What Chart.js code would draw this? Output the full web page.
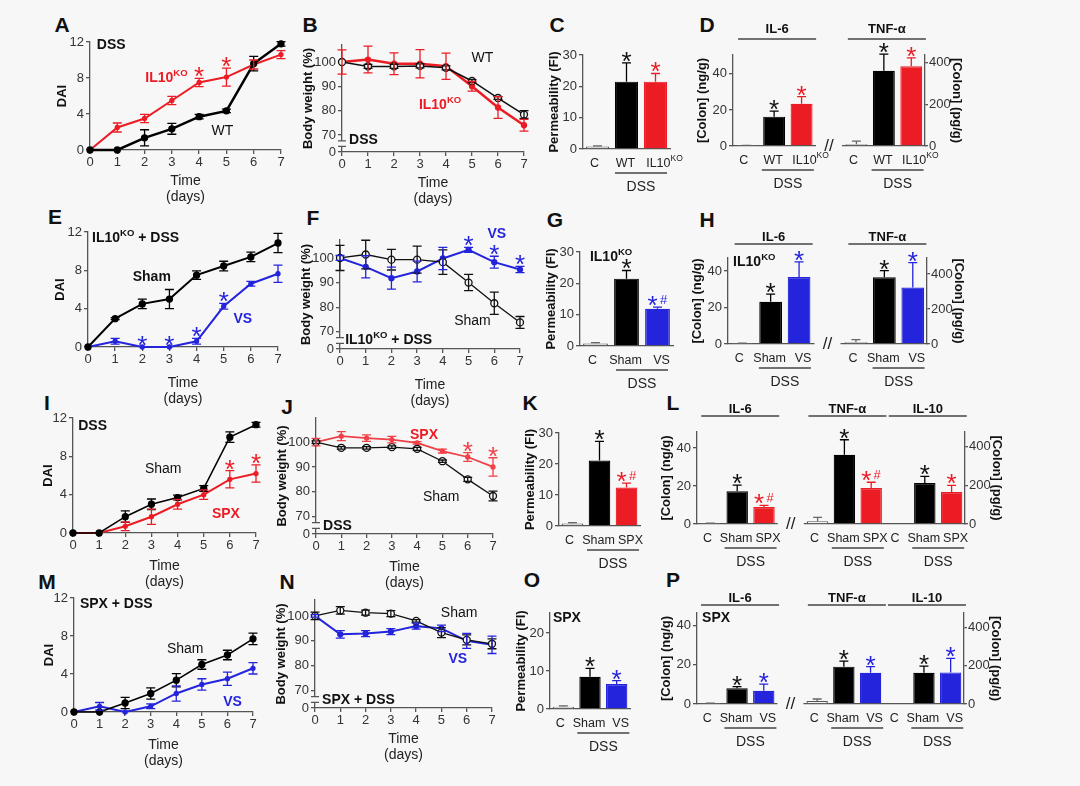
<!DOCTYPE html>
<html>
<head>
<meta charset="utf-8">
<script src="https://cdn.jsdelivr.net/npm/chart.js@4.4.1/dist/chart.umd.min.js"></script>
<style>
  body { margin: 0; background: #f7f7f7; width: 1080px; height: 786px; position: relative; overflow: hidden; }
  canvas { position: absolute; }
  .tag { position: absolute; font: bold 21px "Liberation Sans", Arial, sans-serif; color: #111; transform: translate(-50%, -50%); }
</style>
</head>
<body>
<div class="tag" style="left:62px;top:25px">A</div>
<div class="tag" style="left:310px;top:25px">B</div>
<div class="tag" style="left:557px;top:25px">C</div>
<div class="tag" style="left:707px;top:25px">D</div>
<div class="tag" style="left:55px;top:217px">E</div>
<div class="tag" style="left:313px;top:218px">F</div>
<div class="tag" style="left:555px;top:220px">G</div>
<div class="tag" style="left:707px;top:220px">H</div>
<div class="tag" style="left:47px;top:403px">I</div>
<div class="tag" style="left:287px;top:407px">J</div>
<div class="tag" style="left:530px;top:403px">K</div>
<div class="tag" style="left:673px;top:403px">L</div>
<div class="tag" style="left:47px;top:582px">M</div>
<div class="tag" style="left:287px;top:582px">N</div>
<div class="tag" style="left:532px;top:580px">O</div>
<div class="tag" style="left:673px;top:580px">P</div>
<script>
// ---- data ----
const days = ['0', '1', '2', '3', '4', '5', '6', '7'];
const daiTicks = [0, 4, 8, 12];
const bwTicks = [63, 70, 80, 90, 100];
const bwTickLabels = ['0', '70', '80', '90', '100'];
const permTicks = [0, 10, 20, 30];
const permTicksO = [0, 10, 20];
const ngTicks = [0, 20, 40];
const pgTicks = [0, 200, 400];

const catsWT = ['C', 'WT', 'IL10^{KO}'];
const catsVS = ['C', 'Sham', 'VS'];
const catsSPX = ['C', 'Sham', 'SPX'];

// A  DAI (DSS)
const aWT = [0, 0, 1.35, 2.35, 3.7, 4.35, 9.6, 11.8];
const aWTErr = [0, 0, 0.9, 0.6, 0.25, 0.2, 0.8, 0.25];
const aKO = [0, 2.5, 3.5, 5.5, 7.5, 8.1, 9.5, 10.6];
const aKOErr = [0, 0.5, 0.45, 0.45, 0.45, 1.0, 0.5, 0.45];
const aKOStars = ['', '', '', '', '*', '*', '', ''];
// B  body weight (DSS)
const bWT = [100, 98.2, 98.2, 98.4, 97.6, 92.2, 85.2, 78.4];
const bWTErr = [0, 0.8, 0.8, 0.8, 0.8, 0.6, 0.6, 1.6];
const bKO = [100, 101, 99.3, 99.3, 98.3, 90, 81.3, 74];
const bKOErr = [5, 5.5, 4.5, 5.8, 5.4, 2, 4.5, 2.4];
// C  permeability
const permC = [0.8, 21.5, 21.5];
const permCErr = [0.2, 6, 2.6];
const permCStars = ['', '*', '*'];
// D  cytokines
const dIL6 = [0.3, 16.3, 23.4];
const dIL6Err = [0.1, 3, 4];
const dIL6Stars = ['', '*', '*'];
const dTNF = [8, 362, 384];
const dTNFErr = [15, 80, 40];
const dTNFStars = ['', '*', '*'];
// E  DAI (IL10KO + DSS)
const eSham = [0, 2.96, 4.5, 5.0, 7.5, 8.45, 9.4, 10.85];
const eShamErr = [0, 0.1, 0.5, 1.0, 0.45, 0.5, 0.5, 1.0];
const eVS = [0, 0.6, 0, 0, 0.6, 4.25, 6.6, 7.65];
const eVSErr = [0, 0.3, 0, 0, 0.3, 0.3, 0.25, 0.9];
const eVSStars = ['', '', '*', '*', '*', '*', '', ''];
// F  body weight (IL10KO + DSS)
const fSham = [100, 101.4, 99.3, 99.3, 98.3, 90, 81.6, 73.8];
const fShamErr = [5.1, 5.8, 4.2, 5.5, 5, 3.3, 4.5, 2.4];
const fVS = [100, 96.4, 91.8, 94.5, 99.8, 103.3, 98.3, 95.3];
const fVSErr = [1, 4.5, 4.5, 4.2, 4.5, 1, 2.4, 1.3];
const fVSStars = ['', '', '', '', '', '*', '*', '*'];
// G  permeability IL10KO
const permG = [0.8, 21.5, 11.9];
const permGErr = [0.3, 2.6, 0.5];
const permGStars = ['', '*', '*#'];
// H  cytokines IL10KO
const hIL6 = [0.3, 23.1, 36.7];
const hIL6Err = [0.1, 4.2, 8.3];
const hIL6Stars = ['', '*', '*'];
const hTNF = [10, 381, 322];
const hTNFErr = [15, 38, 143];
const hTNFStars = ['', '*', '*'];
// I  DAI (DSS, SPX)
const iSham = [0, 0, 1.7, 3.0, 3.7, 4.65, 10, 11.3];
const iShamErr = [0, 0, 0.6, 0.55, 0.25, 0.3, 0.55, 0.25];
const iSPX = [0, 0, 0.7, 1.7, 3.0, 4.0, 5.6, 6.2];
const iSPXErr = [0, 0, 0.45, 0.8, 0.5, 0.5, 0.9, 0.9];
const iSPXStars = ['', '', '', '', '', '', '*', '*'];
// J  body weight (DSS, SPX)
const jSham = [100, 97.7, 97.7, 98, 97.3, 92.3, 85, 78.3];
const jShamErr = [0.5, 0.5, 0.5, 0.5, 0.6, 0.5, 0.8, 2];
const jSPX = [100, 102.4, 101.6, 101, 99.7, 96.4, 94, 90];
const jSPXErr = [1.5, 1.8, 1.3, 1.3, 0.5, 0.8, 1.8, 3.7];
const jSPXStars = ['', '', '', '', '', '', '*', '*'];
// K  permeability SPX
const permK = [0.8, 21.1, 12.4];
const permKErr = [0.3, 6.2, 1.4];
const permKStars = ['', '*', '*#'];
// L  cytokines SPX
const lIL6 = [0.3, 17.2, 8.9];
const lIL6Err = [0.1, 3.2, 0.9];
const lIL6Stars = ['', '*', '*#'];
const lTNF = [14, 357, 185];
const lTNFErr = [20, 77, 30];
const lTNFStars = ['', '*', '*#'];
const lIL10 = [5, 211, 165];
const lIL10Err = [0, 34, 34];
const lIL10Stars = ['', '*', '*'];
// M  DAI (SPX + DSS)
const mSham = [0, 0, 0.95, 1.95, 3.35, 5.0, 6.0, 7.7];
const mShamErr = [0, 0, 0.6, 0.6, 0.7, 0.5, 0.5, 0.6];
const mVS = [0, 0.6, 0, 0.6, 1.95, 2.9, 3.5, 4.6];
const mVSErr = [0, 0.4, 0, 0.25, 0.8, 0.6, 0.7, 0.6];
// N  body weight (SPX + DSS)
const nSham = [100, 102.2, 101.3, 100.9, 98, 93.3, 90.4, 88.8];
const nShamErr = [1.5, 1.5, 1, 1.2, 0.5, 2, 2, 2];
const nVS = [100, 92.6, 92.9, 93.7, 95.9, 95, 90, 88.4];
const nVSErr = [0.5, 1.5, 1.2, 1.2, 1.2, 1.3, 3, 3.5];
// O  permeability SPX + VS
const permO = [0.6, 8.5, 6.6];
const permOErr = [0.2, 2.2, 0.9];
const permOStars = ['', '*', '*'];
// P  cytokines SPX + VS
const pIL6 = [0.3, 8.0, 6.8];
const pIL6Err = [0.1, 0.9, 3.4];
const pIL6Stars = ['', '*', '*'];
const pTNF = [16, 195, 163];
const pTNFErr = [10, 29, 32];
const pTNFStars = ['', '*', '*'];
const pIL10 = [3.5, 163, 165];
const pIL10Err = [0, 35, 73];
const pIL10Stars = ['', '*', '*'];

// ---- drawing ----
const FAM = '"Liberation Sans", Arial, sans-serif';
const BG = '#f7f7f7';
const AX = '#555';
const RED = '#ec1c24';
const BLUE = '#2424dc';
Chart.defaults.font.family = FAM;
Chart.defaults.font.size = 13;
Chart.defaults.color = '#333';

function makeCanvas(area, m) {
  const c = document.createElement('canvas');
  const w = area[2] - area[0] + m.l + m.r, h = area[3] - area[1] + m.t + m.b;
  c.style.left = (area[0] - m.l) + 'px';
  c.style.top = (area[1] - m.t) + 'px';
  c.width = w; c.height = h;
  c.style.width = w + 'px'; c.style.height = h + 'px';
  document.body.appendChild(c);
  return c;
}

function drawRich(ctx, text, x, y, size, bold, color, align) {
  const parts = [];
  text.split(/(\^\{[^}]*\})/).forEach(p => {
    if (!p) return;
    if (p.startsWith('^{')) parts.push({ t: p.slice(2, -1), sup: true });
    else parts.push({ t: p, sup: false });
  });
  const fnt = s => (bold ? 'bold ' : '') + s + 'px ' + FAM;
  let w = 0;
  parts.forEach(p => { ctx.font = fnt(p.sup ? size * 0.68 : size); p.w = ctx.measureText(p.t).width; w += p.w; });
  let cx = align === 'left' ? x : x - w / 2;
  ctx.fillStyle = color; ctx.textBaseline = 'alphabetic'; ctx.textAlign = 'left';
  parts.forEach(p => {
    ctx.font = fnt(p.sup ? size * 0.68 : size);
    ctx.fillText(p.t, cx, y + size * 0.36 - (p.sup ? size * 0.42 : 0));
    cx += p.w;
  });
}

function drawStar(ctx, s, x, top, color) {
  ctx.fillStyle = color; ctx.textAlign = 'center'; ctx.textBaseline = 'alphabetic';
  if (s.includes('#')) {
    ctx.font = '26px ' + FAM; ctx.fillText('*', x - 5, top + 9);
    ctx.font = '13px ' + FAM; ctx.fillText('#', x + 6, top - 1);
  } else {
    ctx.font = '26px ' + FAM; ctx.fillText('*', x, top + 9);
  }
}

function decor(ex) {
  return {
    id: 'decor',
    afterDatasetsDraw(chart) {
      const ctx = chart.ctx;
      const isBar = chart.config.type === 'bar';
      ctx.save();
      chart.data.datasets.forEach((ds, di) => {
        const meta = chart.getDatasetMeta(di);
        const ys = chart.scales[meta.yAxisID];
        meta.data.forEach((el, i) => {
          const v = ds.data[i];
          if (v === null || v === undefined) return;
          const e = ds.err ? (ds.err[i] || 0) : 0;
          const col = Array.isArray(ds.errColor) ? ds.errColor[i] : ds.errColor;
          const x = el.x;
          const up = ys.getPixelForValue(v + e);
          const lo = ys.getPixelForValue(isBar ? v : v - e);
          if (e > 0) {
            ctx.strokeStyle = col; ctx.lineWidth = 1.3;
            ctx.beginPath();
            ctx.moveTo(x, lo); ctx.lineTo(x, up);
            ctx.moveTo(x - 4.5, up); ctx.lineTo(x + 4.5, up);
            if (!isBar) { ctx.moveTo(x - 4.5, lo); ctx.lineTo(x + 4.5, lo); }
            ctx.stroke();
          }
          if (ds.stars && ds.stars[i]) {
            const sc = Array.isArray(ds.starColor) ? ds.starColor[i] : ds.starColor;
            drawStar(ctx, ds.stars[i], x, Math.min(up, el.y) - 2, sc);
          }
        });
      });
      ctx.restore();
    },
    afterDraw(chart) {
      const ctx = chart.ctx;
      const xs = chart.scales.x, ys = chart.scales.y;
      const ca = chart.chartArea;
      ctx.save();
      if (ex.broken) {
        const y1 = ys.getPixelForValue(65.3), y2 = ys.getPixelForValue(67.6);
        ctx.fillStyle = BG;
        ctx.fillRect(ca.left - 2, y2, 4, y1 - y2);
        ctx.strokeStyle = AX; ctx.lineWidth = 1.3;
        ctx.beginPath();
        ctx.moveTo(ca.left - 4, y1); ctx.lineTo(ca.left + 4, y1);
        ctx.moveTo(ca.left - 4, y2); ctx.lineTo(ca.left + 4, y2);
        ctx.stroke();
      }
      if (ex.spacer !== undefined && ex.spacer >= 0) {
        const sx = xs.getPixelForValue(ex.spacer);
        ctx.fillStyle = BG;
        ctx.fillRect(sx - 13, ca.bottom - 2, 26, 4);
        ctx.fillStyle = '#222'; ctx.font = '17px ' + FAM;
        ctx.textAlign = 'center'; ctx.textBaseline = 'alphabetic';
        ctx.fillText('//', sx, ca.bottom + 5);
      }
      // category labels under the bars, pushed apart a little as in the figure
      if (ex.labels) {
        ex.labels.forEach((l, i) => {
          if (!l) return;
          const k = ex.slot[i];
          let shift = k === 0 ? -3 : k === 1 ? -1 : 4;
          if (l.includes('^')) shift += 5;
          drawRich(ctx, l, xs.getPixelForValue(i) + shift, ca.bottom + 13, 12.5, false, '#222', 'center');
        });
      }
      (ex.groups || []).forEach(g => {
        const c0 = xs.getPixelForValue(g.start), c2 = xs.getPixelForValue(g.start + 2);
        const mid = (c0 + c2) / 2 + 3;
        if (g.title) {
          ctx.strokeStyle = '#444'; ctx.lineWidth = 1.3;
          ctx.beginPath(); ctx.moveTo(mid - 39, ca.top + ex.head[0]); ctx.lineTo(mid + 39, ca.top + ex.head[0]); ctx.stroke();
          drawRich(ctx, g.title, mid, ca.top + ex.head[1], 13, true, '#111', 'center');
        }
        const d1 = xs.getPixelForValue(g.start + 1), d2 = xs.getPixelForValue(g.start + 2);
        const dm = (d1 + d2) / 2;
        ctx.strokeStyle = '#444'; ctx.lineWidth = 1.3;
        ctx.beginPath(); ctx.moveTo(dm - 26, ca.bottom + 24); ctx.lineTo(dm + 26, ca.bottom + 24); ctx.stroke();
        drawRich(ctx, 'DSS', dm, ca.bottom + 37, 14, false, '#222', 'center');
      });
      (ex.notes || []).forEach(n => {
        const px = xs.getPixelForValue(n.x), py = ys.getPixelForValue(n.y);
        drawRich(ctx, n.t, px, py, n.s || 14, n.b, n.c || '#111', n.a);
      });
      ctx.restore();
    }
  };
}

function yAxis(opt, width, pos) {
  const right = pos === 'right';
  return {
    position: pos || 'left',
    min: opt.min || 0, max: opt.max,
    border: { display: true, color: AX, width: 1.3 },
    grid: { drawOnChartArea: false, drawTicks: true, tickLength: right ? 3 : 4, color: AX, lineWidth: 1.3 },
    ticks: { padding: right ? 1 : 2, color: '#333', font: { size: 13 }, callback: (v, i) => opt.labels ? opt.labels[i] : v },
    title: { display: true, text: opt.title, font: { size: 13, weight: 'bold', lineHeight: right ? 1 : 1.2 }, color: '#111', padding: 0 },
    afterBuildTicks: s => { s.ticks = opt.ticks.map(v => ({ value: v })); },
    afterFit: s => { s.width = width; s.paddingTop = 0; s.paddingBottom = 0; }
  };
}

function lineChart(o) {
  const c = makeCanvas(o.area, o.m);
  new Chart(c, {
    type: 'line',
    data: {
      labels: days,
      datasets: o.series.map(s => ({
        data: s.data, err: s.err, stars: s.stars,
        errColor: s.color, starColor: s.color,
        borderColor: s.color, borderWidth: s.width,
        pointRadius: s.radius, pointBackgroundColor: s.fill, pointBorderColor: s.color, pointBorderWidth: 1.3,
        tension: 0, clip: false
      }))
    },
    options: {
      responsive: false, animation: false,
      layout: { padding: { top: o.m.t, right: o.m.r, left: 0, bottom: 0 } },
      plugins: { legend: { display: false }, tooltip: { enabled: false } },
      scales: {
        x: {
          type: 'category', offset: false,
          border: { display: true, color: AX, width: 1.3 },
          grid: { drawOnChartArea: false, drawTicks: true, tickLength: 4, color: AX, lineWidth: 1.3 },
          ticks: { padding: 1, maxRotation: 0, autoSkip: false, color: '#333', font: { size: 13 } },
          title: { display: true, text: ['Time', '(days)'], font: { size: 14 }, color: '#222', padding: 0 },
          afterFit: s => { s.height = o.m.b; s.paddingLeft = 0; s.paddingRight = 0; }
        },
        y: yAxis(o.y, o.m.l)
      }
    },
    plugins: [decor({ notes: o.notes, broken: o.broken })]
  });
}

function barPanel(o) {
  const labels = [], starts = [], slot = [];
  let spacer = -1;
  o.groups.forEach((g, gi) => {
    starts.push(labels.length);
    o.cats.forEach((cat, k) => { labels.push(cat); slot.push(k); });
    if (gi === o.spacerAfter) { spacer = labels.length; labels.push(''); slot.push(-1); }
  });
  const datasets = o.groups.map((g, gi) => {
    const data = labels.map(() => null), err = labels.map(() => 0), stars = labels.map(() => '');
    const fill = [], line = [], ecol = [], scol = [];
    labels.forEach((l, i) => {
      const k = i - starts[gi];
      fill.push(k === 0 ? '#ffffff' : k === 1 ? '#000000' : o.col);
      line.push(k === 0 ? '#555' : k === 1 ? '#000000' : o.col);
      ecol.push(k === 0 ? '#666' : k === 1 ? '#000000' : o.col);
      scol.push(k === 1 ? '#111' : o.col);
    });
    g.vals.forEach((v, k) => { data[starts[gi] + k] = v; err[starts[gi] + k] = g.err[k]; stars[starts[gi] + k] = g.stars[k]; });
    return {
      data, err, stars, errColor: ecol, starColor: scol,
      yAxisID: g.axis || 'y', backgroundColor: fill, borderColor: line, borderWidth: 1.2,
      grouped: false, barPercentage: 0.8, categoryPercentage: 1
    };
  });
  const scales = {
    x: {
      type: 'category', offset: true,
      border: { display: true, color: AX, width: 1.3 },
      grid: { display: false },
      ticks: { display: false },
      afterFit: s => { s.height = o.m.b; s.paddingLeft = 0; s.paddingRight = 0; }
    },
    y: yAxis(o.y, o.m.l)
  };
  if (o.y2) scales.y2 = yAxis(o.y2, o.m.r, 'right');
  const c = makeCanvas(o.area, o.m);
  new Chart(c, {
    type: 'bar',
    data: { labels, datasets },
    options: {
      responsive: false, animation: false,
      layout: { padding: { top: o.m.t, right: o.y2 ? 0 : o.m.r, left: 0, bottom: 0 } },
      plugins: { legend: { display: false }, tooltip: { enabled: false } },
      scales
    },
    plugins: [decor({
      notes: o.notes, spacer, labels, slot,
      head: o.head || [-16, -27],
      groups: o.groups.map((g, gi) => ({ start: starts[gi], title: g.title }))
    })]
  });
}

const daiY = { max: 12, ticks: daiTicks, title: 'DAI' };
const bw = (max) => ({ min: 63, max, ticks: bwTicks, labels: bwTickLabels, title: 'Body weight (%)' });
const perm = { max: 30, ticks: permTicks, title: 'Permeability (FI)' };
const mLine = { l: 35, t: 16, r: 12, b: 56 };
const mBw = { l: 41, t: 16, r: 12, b: 56 };
const mPerm = { l: 36, t: 16, r: 30, b: 50 };
const mCyto = { l: 38, t: 40, r: 38, b: 50 };

// Row 1
lineChart({
  area: [90, 42, 281, 150], m: mLine, y: daiY,
  series: [
    { data: aWT, err: aWTErr, color: '#000', width: 2.5, radius: 3, fill: '#000' },
    { data: aKO, err: aKOErr, stars: aKOStars, color: RED, width: 2, radius: 2, fill: RED }
  ],
  notes: [
    { t: 'DSS', x: 0.25, y: 11.75, b: true, a: 'left' },
    { t: 'IL10^{KO}', x: 2.8, y: 8.1, b: true, c: RED },
    { t: 'WT', x: 4.85, y: 2.2 }
  ]
});
lineChart({
  area: [342, 45, 524, 152], m: mBw, y: bw(107), broken: true,
  series: [
    { data: bWT, err: bWTErr, color: '#111', width: 1.5, radius: 3.5, fill: BG },
    { data: bKO, err: bKOErr, color: RED, width: 2.5, radius: 2.5, fill: RED }
  ],
  notes: [
    { t: 'WT', x: 5.4, y: 102 },
    { t: 'IL10^{KO}', x: 3.77, y: 82.8, b: true, c: RED },
    { t: 'DSS', x: 0.27, y: 68.4, b: true, a: 'left' }
  ]
});
barPanel({
  area: [583, 55, 670, 149], m: mPerm, y: perm, cats: catsWT, col: RED,
  groups: [{ vals: permC, err: permCErr, stars: permCStars }]
});
barPanel({
  area: [733, 55, 925, 146], m: mCyto, cats: catsWT, col: RED, spacerAfter: 0,
  y: { max: 50.5, ticks: ngTicks, title: '[Colon] (ng/g)' },
  y2: { max: 438, ticks: pgTicks, title: '[Colon] (pg/g)' },
  head: [-16, -27],
  groups: [
    { title: 'IL-6', vals: dIL6, err: dIL6Err, stars: dIL6Stars, axis: 'y' },
    { title: 'TNF-α', vals: dTNF, err: dTNFErr, stars: dTNFStars, axis: 'y2' }
  ]
});

// Row 2
lineChart({
  area: [88, 232, 278, 347], m: { l: 35, t: 16, r: 12, b: 61 }, y: daiY,
  series: [
    { data: eSham, err: eShamErr, color: '#000', width: 2, radius: 3, fill: '#000' },
    { data: eVS, err: eVSErr, stars: eVSStars, color: BLUE, width: 2, radius: 2, fill: BLUE }
  ],
  notes: [
    { t: 'IL10^{KO} + DSS', x: 0.15, y: 11.5, b: true, a: 'left' },
    { t: 'Sham', x: 2.35, y: 7.4, b: true },
    { t: 'VS', x: 5.7, y: 3.0, b: true, c: BLUE }
  ]
});
lineChart({
  area: [340, 240, 520, 349], m: { l: 41, t: 30, r: 12, b: 61 }, y: bw(107.3), broken: true,
  series: [
    { data: fSham, err: fShamErr, color: '#111', width: 1.3, radius: 3.5, fill: BG },
    { data: fVS, err: fVSErr, stars: fVSStars, color: BLUE, width: 2, radius: 2.5, fill: BLUE }
  ],
  notes: [
    { t: 'VS', x: 6.1, y: 110, b: true, c: BLUE },
    { t: 'Sham', x: 5.15, y: 74.9 },
    { t: 'IL10^{KO} + DSS', x: 0.2, y: 67.2, b: true, a: 'left' }
  ]
});
barPanel({
  area: [580, 252, 673, 346], m: mPerm, y: perm, cats: catsVS, col: BLUE,
  groups: [{ vals: permG, err: permGErr, stars: permGStars }],
  notes: [{ t: 'IL10^{KO}', x: -0.18, y: 28.7, b: true, a: 'left' }]
});
barPanel({
  area: [728, 258, 927, 344], m: mCyto, cats: catsVS, col: BLUE, spacerAfter: 0,
  y: { max: 47.1, ticks: ngTicks, title: '[Colon] (ng/g)' },
  y2: { max: 491, ticks: pgTicks, title: '[Colon] (pg/g)' },
  head: [-14, -22],
  groups: [
    { title: 'IL-6', vals: hIL6, err: hIL6Err, stars: hIL6Stars, axis: 'y' },
    { title: 'TNF-α', vals: hTNF, err: hTNFErr, stars: hTNFStars, axis: 'y2' }
  ],
  notes: [{ t: 'IL10^{KO}', x: -0.32, y: 45.5, b: true, a: 'left' }]
});

// Row 3
lineChart({
  area: [73, 418, 256, 533], m: { l: 32, t: 16, r: 12, b: 58 }, y: daiY,
  series: [
    { data: iSham, err: iShamErr, color: '#000', width: 1.5, radius: 3, fill: '#000' },
    { data: iSPX, err: iSPXErr, stars: iSPXStars, color: RED, width: 2, radius: 2, fill: RED }
  ],
  notes: [
    { t: 'DSS', x: 0.2, y: 11.3, b: true, a: 'left' },
    { t: 'Sham', x: 3.45, y: 6.8 },
    { t: 'SPX', x: 5.85, y: 2.1, b: true, c: RED }
  ]
});
lineChart({
  area: [316, 418, 493, 534], m: { l: 41, t: 16, r: 12, b: 58 }, y: bw(109.7), broken: true,
  series: [
    { data: jSham, err: jShamErr, color: '#111', width: 1.3, radius: 3.5, fill: BG },
    { data: jSPX, err: jSPXErr, stars: jSPXStars, color: '#f04048', width: 1.8, radius: 2, fill: '#f04048' }
  ],
  notes: [
    { t: 'SPX', x: 4.27, y: 103.2, b: true, c: RED },
    { t: 'Sham', x: 4.95, y: 78.5 },
    { t: 'DSS', x: 0.28, y: 66.8, b: true, a: 'left' }
  ]
});
barPanel({
  area: [559, 433, 640, 526], m: mPerm, y: perm, cats: catsSPX, col: RED,
  groups: [{ vals: permK, err: permKErr, stars: permKStars }]
});
barPanel({
  area: [697, 432, 965, 524], m: mCyto, cats: catsSPX, col: RED, spacerAfter: 0,
  y: { max: 48.4, ticks: ngTicks, title: '[Colon] (ng/g)' },
  y2: { max: 474, ticks: pgTicks, title: '[Colon] (pg/g)' },
  head: [-16, -24],
  groups: [
    { title: 'IL-6', vals: lIL6, err: lIL6Err, stars: lIL6Stars, axis: 'y' },
    { title: 'TNF-α', vals: lTNF, err: lTNFErr, stars: lTNFStars, axis: 'y2' },
    { title: 'IL-10', vals: lIL10, err: lIL10Err, stars: lIL10Stars, axis: 'y2' }
  ]
});

// Row 4
lineChart({
  area: [74, 598, 253, 712], m: { l: 32, t: 16, r: 12, b: 58 }, y: daiY,
  series: [
    { data: mSham, err: mShamErr, color: '#000', width: 1.5, radius: 3, fill: '#000' },
    { data: mVS, err: mVSErr, color: BLUE, width: 2, radius: 2, fill: BLUE }
  ],
  notes: [
    { t: 'SPX + DSS', x: 0.23, y: 11.5, b: true, a: 'left' },
    { t: 'Sham', x: 4.35, y: 6.7 },
    { t: 'VS', x: 6.2, y: 1.15, b: true, c: BLUE }
  ]
});
lineChart({
  area: [315, 600, 492, 708], m: { l: 41, t: 16, r: 12, b: 56 }, y: bw(106.4), broken: true,
  series: [
    { data: nSham, err: nShamErr, color: '#111', width: 1.3, radius: 3.5, fill: BG },
    { data: nVS, err: nVSErr, color: BLUE, width: 2, radius: 2.5, fill: BLUE }
  ],
  notes: [
    { t: 'Sham', x: 5.7, y: 101.6 },
    { t: 'VS', x: 5.65, y: 83, b: true, c: BLUE },
    { t: 'SPX + DSS', x: 0.28, y: 66.8, b: true, a: 'left' }
  ]
});
barPanel({
  area: [550, 613, 630, 709], m: mPerm, cats: catsVS, col: BLUE,
  y: { max: 25.3, ticks: permTicksO, title: 'Permeability (FI)' },
  groups: [{ vals: permO, err: permOErr, stars: permOStars }],
  notes: [{ t: 'SPX', x: -0.39, y: 24.2, b: true, a: 'left' }]
});
barPanel({
  area: [697, 613, 964, 704], m: { l: 38, t: 30, r: 38, b: 50 }, cats: catsVS, col: BLUE, spacerAfter: 0,
  y: { max: 46.5, ticks: ngTicks, title: '[Colon] (ng/g)' },
  y2: { max: 475, ticks: pgTicks, title: '[Colon] (pg/g)' },
  head: [-8, -16],
  groups: [
    { title: 'IL-6', vals: pIL6, err: pIL6Err, stars: pIL6Stars, axis: 'y' },
    { title: 'TNF-α', vals: pTNF, err: pTNFErr, stars: pTNFStars, axis: 'y2' },
    { title: 'IL-10', vals: pIL10, err: pIL10Err, stars: pIL10Stars, axis: 'y2' }
  ],
  notes: [{ t: 'SPX', x: -0.31, y: 44.4, b: true, a: 'left' }]
});
</script>
</body>
</html>
